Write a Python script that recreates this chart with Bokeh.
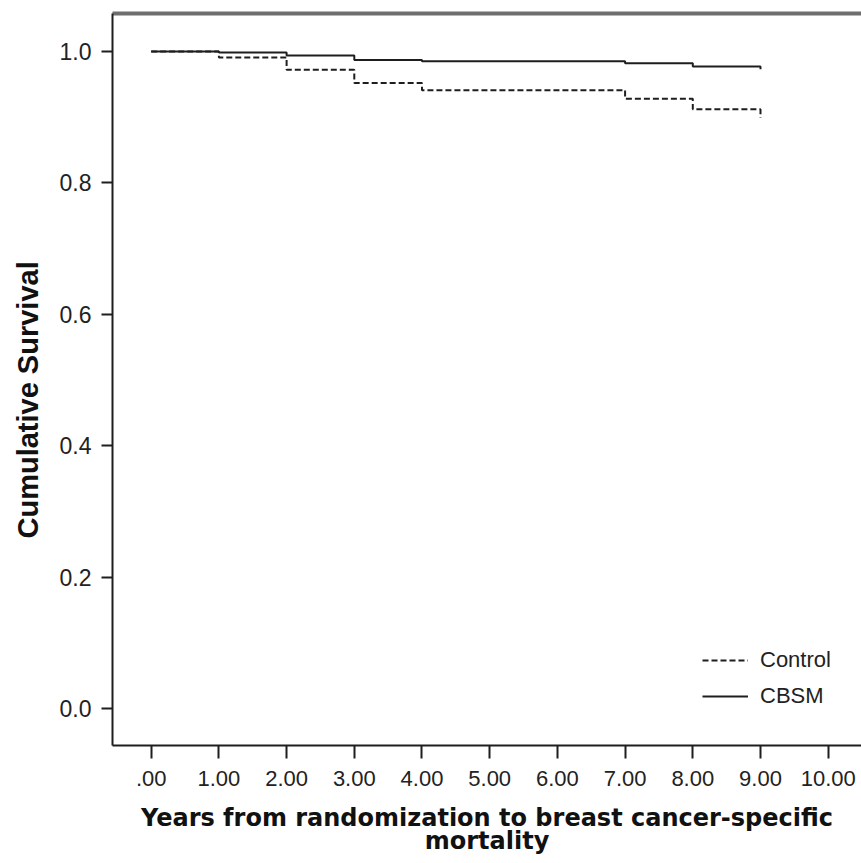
from bokeh.plotting import figure
from bokeh.models import (Range1d, FixedTicker, LinearAxis, Legend, LegendItem,
                          Title)
from bokeh.embed import file_html
from bokeh.resources import INLINE

# ---- data ----
years = [0, 1, 2, 3, 4, 7, 8, 9]
control_surv = [1.0, 0.991, 0.972, 0.952, 0.941, 0.928, 0.912, 0.899]
cbsm_surv = [1.0, 0.9985, 0.994, 0.987, 0.985, 0.982, 0.977, 0.973]

x_ticks = [0, 1, 2, 3, 4, 5, 6, 7, 8, 9, 10]
x_tick_labels = [".00", "1.00", "2.00", "3.00", "4.00", "5.00", "6.00",
                 "7.00", "8.00", "9.00", "10.00"]
y_ticks = [0.0, 0.2, 0.4, 0.6, 0.8, 1.0]
y_tick_labels = ["0.0", "0.2", "0.4", "0.6", "0.8", "1.0"]

series_names = ["Control", "CBSM"]
x_title = "Years from randomization to breast cancer-specific\nmortality"
y_title = "Cumulative Survival"

INK = "#1e1e1e"
SANS = "Liberation Sans"

p = figure(width=861, height=863, output_backend="svg", toolbar_location=None,
           x_range=Range1d(-0.5716, 10.492), y_range=Range1d(-0.0563, 1.0578),
           min_border_left=112, min_border_right=0, min_border_top=13,
           min_border_bottom=118)
p.grid.visible = False
p.outline_line_color = None
p.background_fill_color = "white"
p.border_fill_color = "white"

r_ctrl = p.step(x=years, y=control_surv, mode="after", line_color=INK,
                line_width=2, line_dash="6 3")
r_cbsm = p.step(x=years, y=cbsm_surv, mode="after", line_color=INK,
                line_width=2)

# x axis
xa = p.xaxis[0]
xa.ticker = FixedTicker(ticks=x_ticks)
xa.major_label_overrides = {t: s for t, s in zip(x_ticks, x_tick_labels)}
xa.axis_line_width = 2
xa.axis_line_color = INK
xa.major_tick_out = 13
xa.major_tick_in = 0
xa.major_tick_line_width = 2
xa.major_tick_line_color = INK
xa.minor_tick_line_color = None
xa.major_label_text_font = SANS
xa.major_label_text_font_size = "22px"
xa.major_label_text_color = "#222222"
xa.major_label_standoff = 12
xa.axis_label = x_title
xa.axis_label_text_font = "DejaVu Sans"
xa.axis_label_text_font_style = "bold"
xa.axis_label_text_font_size = "24px"
xa.axis_label_text_line_height = 0.85
xa.axis_label_text_color = "#111111"
xa.axis_label_standoff = 15

# y axis
ya = p.yaxis[0]
ya.ticker = FixedTicker(ticks=y_ticks)
ya.major_label_overrides = {t: s for t, s in zip(y_ticks, y_tick_labels)}
ya.axis_line_width = 2
ya.axis_line_color = INK
ya.major_tick_out = 11
ya.major_tick_in = 0
ya.major_tick_line_width = 2
ya.major_tick_line_color = INK
ya.minor_tick_line_color = None
ya.major_label_text_font = SANS
ya.major_label_text_font_size = "23px"
ya.major_label_text_color = "#222222"
ya.major_label_standoff = 10

ytitle = Title(text=y_title, align="left", offset=207, vertical_align="top",
               text_font=SANS, text_font_style="bold", text_font_size="29px",
               text_color="#111111", standoff=22)
p.add_layout(ytitle, "left")

# top frame line (thick gray)
top = LinearAxis(ticker=FixedTicker(ticks=[]), axis_line_width=4,
                 axis_line_color="#6e6e6e", major_tick_line_color=None,
                 minor_tick_line_color=None, major_label_text_font_size="0px",
                 major_label_standoff=0)
p.add_layout(top, "above")

legend = Legend(items=[LegendItem(label=series_names[0], renderers=[r_ctrl]),
                       LegendItem(label=series_names[1], renderers=[r_cbsm])],
                location=(590, 36), border_line_color=None,
                background_fill_alpha=0, glyph_width=46, glyph_height=24,
                label_text_font=SANS, label_text_font_size="22px",
                label_text_color="#222222", spacing=10, padding=0, margin=0,
                label_standoff=12)
p.add_layout(legend)

open("out.html", "w").write(file_html(p, INLINE))
